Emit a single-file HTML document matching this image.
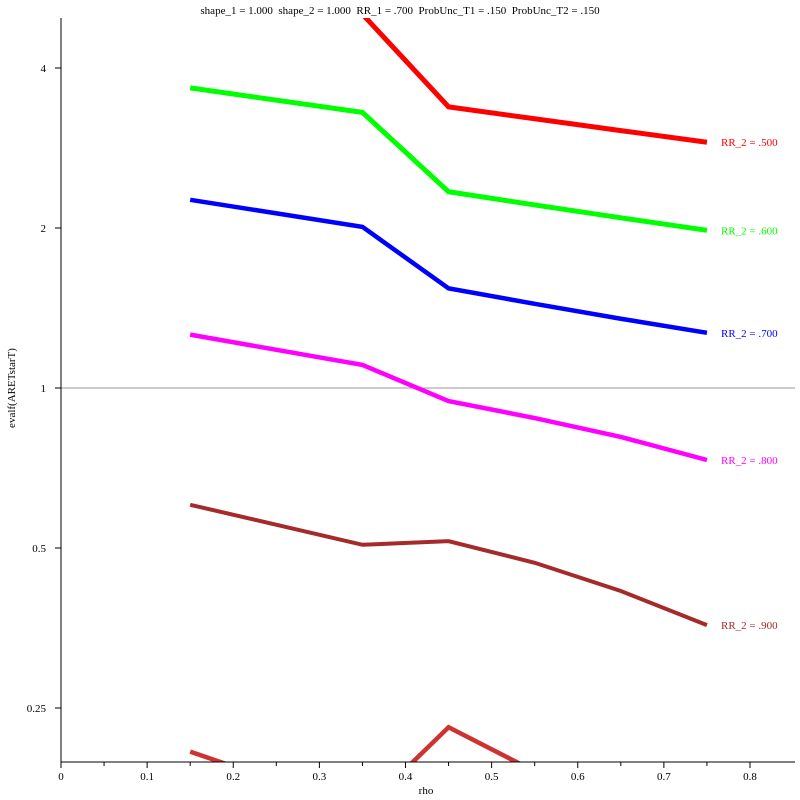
<!DOCTYPE html>
<html><head><meta charset="utf-8"><style>
body{margin:0;background:#fff;}
svg{display:block;font-family:"Liberation Serif",serif;}
</style></head><body>
<svg id="chart" width="800" height="800">
<text x="400" y="14" font-size="11" text-anchor="middle" xml:space="preserve" style="white-space:pre">shape_1 = 1.000  shape_2 = 1.000  RR_1 = .700  ProbUnc_T1 = .150  ProbUnc_T2 = .150</text>
<text transform="translate(15,388) rotate(-90)" font-size="11" text-anchor="middle">evalf(ARETstarT)</text>
<text x="426" y="794" font-size="11" text-anchor="middle">rho</text>
<defs><clipPath id="plotclip"><rect x="61" y="18" width="739" height="744"/></clipPath></defs>
<g id="grid"></g>
<g id="series" clip-path="url(#plotclip)"></g>
<g id="labels"></g>
<g id="axes"></g>
</svg>
<script>
const rhoValues = [0.15, 0.35, 0.45, 0.55, 0.65, 0.75];
const seriesNames = ["RR_2 = .500","RR_2 = .600","RR_2 = .700","RR_2 = .800","RR_2 = .900",""];
const seriesRR500 = [5.6, 5.05, 3.38, 3.21, 3.05, 2.90];
const seriesRR600 = [3.67, 3.30, 2.34, 2.21, 2.09, 1.98];
const seriesRR700 = [2.26, 2.01, 1.54, 1.44, 1.35, 1.27];
const seriesRR800 = [1.26, 1.105, 0.945, 0.878, 0.809, 0.732];
const seriesRR900 = [0.603, 0.507, 0.515, 0.469, 0.415, 0.358];
const seriesRR1000 = [0.207, 0.16, 0.230, 0.19, 0.17, 0.16];
const xTicks = [0,0.1,0.2,0.3,0.4,0.5,0.6,0.7,0.8];
const yTicks = [0.25,0.5,1,2,4];
const yTickLabels = ["0.25","0.5","1","2","4"];

const NS="http://www.w3.org/2000/svg";
const xs = v => 61 + v*861.25;
const ys = v => 388 - 160*Math.log2(v);
function mk(tag, attrs, parent){const e=document.createElementNS(NS,tag);for(const k in attrs)e.setAttribute(k,attrs[k]);parent.appendChild(e);return e;}
const gS=document.getElementById('series'),gL=document.getElementById('labels'),gA=document.getElementById('axes'),gG=document.getElementById('grid');

const ref=mk('line',{x1:61,x2:795,y1:ys(1),y2:ys(1),stroke:'#999','stroke-width':1},gG);



const all=[seriesRR500,seriesRR600,seriesRR700,seriesRR800,seriesRR900,seriesRR1000];
const colors=['#ff0000','#00ff00','#0000ff','#ff00ff','#a52a2a','#cd3333'];
const widths=[5,5,4.5,4.5,4,4.5];
all.forEach((s,i)=>{
  const p=mk('polyline',{points:s.map((v,j)=>xs(rhoValues[j])+','+ys(v)).join(' '),fill:'none',stroke:colors[i],'stroke-width':widths[i],'stroke-linejoin':'miter'},gS);
  
  
  if(seriesNames[i]){
    const t=mk('text',{x:721,y:ys(s[s.length-1])+4,fill:colors[i],'font-size':11},gL);
    t.textContent=seriesNames[i];
    
    
  }
});

const ax=mk('line',{x1:61,x2:61,y1:18,y2:762,stroke:'#000','stroke-width':1},gA);


const bx=mk('line',{x1:61,x2:795,y1:762,y2:762,stroke:'#000','stroke-width':1},gA);


yTicks.forEach((v,i)=>{
  mk('line',{x1:55,x2:61,y1:ys(v),y2:ys(v),stroke:'#000'},gA);
  const t=mk('text',{x:46,y:ys(v)+4,'font-size':11,'text-anchor':'end'},gA);
  t.textContent=yTickLabels[i];
  
  
});
xTicks.forEach(v=>{
  mk('line',{x1:xs(v),x2:xs(v),y1:762,y2:768,stroke:'#000'},gA);
  if(v<0.8) mk('line',{x1:xs(v+0.05),x2:xs(v+0.05),y1:762,y2:766,stroke:'#000'},gA);
  const t=mk('text',{x:xs(v),y:780,'font-size':11,'text-anchor':'middle'},gA);
  t.textContent=String(v);
  
  
});
</script>
</body></html>
